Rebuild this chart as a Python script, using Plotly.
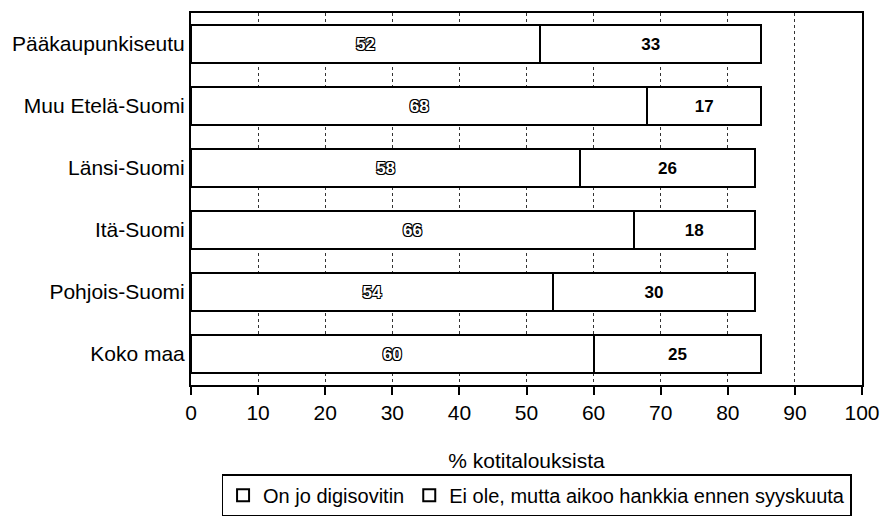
import plotly.graph_objects as go

categories = ["Pääkaupunkiseutu", "Muu Etelä-Suomi", "Länsi-Suomi", "Itä-Suomi", "Pohjois-Suomi", "Koko maa"]
has_adapter = [52, 68, 58, 66, 54, 60]
plans_to_buy = [33, 17, 26, 18, 30, 25]
series_names = ["On jo digisovitin", "Ei ole, mutta aikoo hankkia ennen syyskuuta"]
x_ticks = [0, 10, 20, 30, 40, 50, 60, 70, 80, 90, 100]

FONT = "Liberation Sans, Arial, Helvetica, sans-serif"

fig = go.Figure()
fig.add_trace(go.Bar(
    y=categories, x=has_adapter, name=series_names[0], orientation="h",
    marker=dict(color="white", line=dict(color="black", width=2)),
    text=[str(v) for v in has_adapter], textposition="inside", insidetextanchor="middle",
    textfont=dict(family=FONT, size=17, color="white", weight="bold",
                  shadow="1px 1px 0 #000, -1px -1px 0 #000, 1px -1px 0 #000, -1px 1px 0 #000"),
    width=0.6,
))
fig.add_trace(go.Bar(
    y=categories, x=plans_to_buy, name=series_names[1], orientation="h",
    marker=dict(color="white", line=dict(color="black", width=2)),
    text=[str(v) for v in plans_to_buy], textposition="inside", insidetextanchor="middle",
    textfont=dict(family=FONT, size=17, color="black", weight="bold"),
    width=0.6,
))

fig.update_layout(
    barmode="stack",
    width=885, height=519,
    margin=dict(l=191, r=23, t=13, b=134, autoexpand=False),
    paper_bgcolor="white", plot_bgcolor="white",
    font=dict(family=FONT, color="black", size=20),
    legend=dict(
        orientation="h", traceorder="normal",
        x=0.515, xanchor="center", y=-0.24, yanchor="top",
        bordercolor="black", borderwidth=1.5, font=dict(size=20),
        itemwidth=30, tracegroupgap=0,
    ),
    xaxis=dict(
        range=[0, 100], tickvals=x_ticks, ticktext=[str(v) for v in x_ticks],
        showgrid=True, gridcolor="#333", griddash="dot", gridwidth=1,
        showline=True, linecolor="black", linewidth=2, mirror=True,
        ticks="outside", ticklen=8, tickwidth=1.5, tickcolor="black",
        tickfont=dict(size=21), automargin=False,
        title=dict(text="% kotitalouksista", font=dict(size=21), standoff=30),
        zeroline=False,
    ),
    yaxis=dict(
        autorange="reversed", automargin=False,
        showline=True, linecolor="black", linewidth=2, mirror=True,
        ticks="", tickfont=dict(size=21), showgrid=False,
    ),
)

fig.write_html(
    "out.html",
    config={"displayModeBar": False},
    post_script="document.body.style.margin='0';document.body.style.overflow='hidden';",
)
